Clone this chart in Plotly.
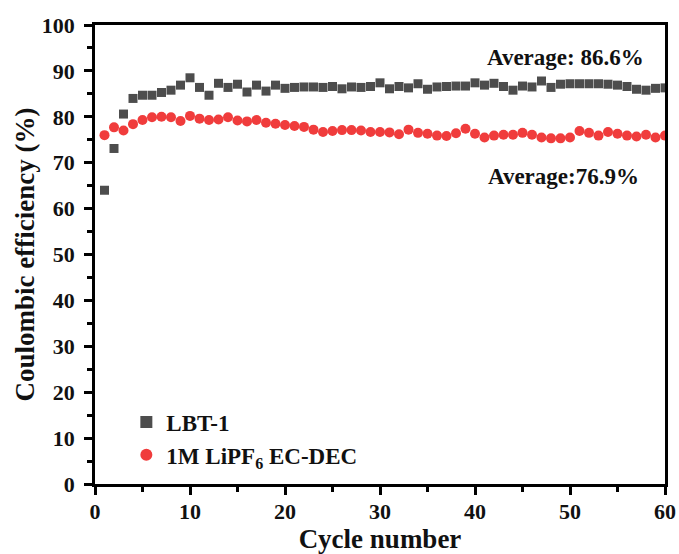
import plotly.graph_objects as go

cycles = list(range(1, 61))

lbt1 = [64.0, 73.1, 80.6, 84.0, 84.7, 84.7, 85.3, 85.8, 86.9, 88.5,
        86.4, 84.7, 87.3, 86.4, 87.1, 85.4, 86.9, 85.6, 86.9, 86.2,
        86.4, 86.5, 86.5, 86.4, 86.6, 86.1, 86.5, 86.4, 86.6, 87.4,
        86.1, 86.6, 86.3, 87.2, 86.0, 86.5, 86.6, 86.7, 86.7, 87.4,
        86.9, 87.3, 86.6, 85.8, 86.7, 86.5, 87.8, 86.4, 87.1, 87.2,
        87.2, 87.2, 87.2, 87.1, 86.9, 86.6, 86.0, 85.8, 86.2, 86.3]

lipf6 = [76.0, 77.7, 77.0, 78.4, 79.3, 79.9, 80.0, 79.9, 79.1, 80.2,
         79.6, 79.3, 79.4, 79.9, 79.2, 79.0, 79.3, 78.7, 78.5, 78.2,
         78.0, 77.8, 77.2, 76.7, 76.9, 77.1, 77.1, 77.0, 76.7, 76.7,
         76.6, 76.2, 77.2, 76.5, 76.3, 75.9, 75.8, 76.4, 77.4, 76.3,
         75.5, 75.9, 76.1, 76.1, 76.5, 76.1, 75.5, 75.3, 75.3, 75.5,
         76.9, 76.5, 75.9, 76.7, 76.3, 75.9, 75.7, 76.1, 75.5, 75.9]

series_names = ["LBT-1", "1M LiPF<sub>6</sub> EC-DEC"]
avg_labels = ["Average: 86.6%", "Average:76.9%"]

x_ticks = [0, 10, 20, 30, 40, 50, 60]
y_ticks = [0, 10, 20, 30, 40, 50, 60, 70, 80, 90, 100]

FONT = "Liberation Serif"
INK = "#111111"

fig = go.Figure()
fig.add_trace(go.Scatter(
    x=cycles, y=lbt1, mode="markers", name="<b>" + series_names[0] + "</b>",
    marker=dict(symbol="square", size=9, color="#4d4d4d"),
))
fig.add_trace(go.Scatter(
    x=cycles, y=lipf6, mode="markers", name="<b>" + series_names[1] + "</b>",
    marker=dict(symbol="circle", size=10, color="#f03c3c"),
))

# average labels next to each series
fig.add_annotation(x=0.966, y=93.0, xref="paper", yref="y", text="<b>" + avg_labels[0] + "</b>",
                   showarrow=False, xanchor="right", yanchor="middle",
                   font=dict(family=FONT, size=23, color=INK))
fig.add_annotation(x=0.958, y=66.9, xref="paper", yref="y", text="<b>" + avg_labels[1] + "</b>",
                   showarrow=False, xanchor="right", yanchor="middle",
                   font=dict(family=FONT, size=23, color=INK))

axis_common = dict(
    showline=True, linecolor="black", linewidth=2.5, mirror=True,
    ticks="outside", ticklen=8, tickwidth=2.5, tickcolor="black",
    showgrid=False, zeroline=False, automargin=False,
    tickfont=dict(family=FONT, size=22, color=INK, weight="bold"),
)

fig.update_xaxes(
    range=[0, 60], tickvals=x_ticks, ticklabelstandoff=-2,
    minor=dict(dtick=5, tick0=0, ticks="outside", ticklen=5, tickwidth=2.5, tickcolor="black"),
    title=dict(text="<b>Cycle number</b>", font=dict(family=FONT, size=27, color=INK), standoff=6),
    **axis_common,
)
fig.update_yaxes(
    range=[0, 100], tickvals=y_ticks, ticklabelstandoff=5,
    minor=dict(dtick=5, tick0=0, ticks="outside", ticklen=5, tickwidth=2.5, tickcolor="black"),
    title=dict(text="<b>Coulombic efficiency (%)</b>", font=dict(family=FONT, size=27, color=INK), standoff=0),
    **axis_common,
)

fig.update_layout(
    width=679, height=554,
    margin=dict(l=95, r=14, t=25, b=70),
    plot_bgcolor="white", paper_bgcolor="white",
    showlegend=True,
    legend=dict(
        x=0.055, y=0.182, xanchor="left", yanchor="top",
        bgcolor="rgba(0,0,0,0)", borderwidth=0,
        font=dict(family=FONT, size=23, color=INK),
        itemsizing="constant", tracegroupgap=0,
    ),
)

fig.write_html("out.html")
